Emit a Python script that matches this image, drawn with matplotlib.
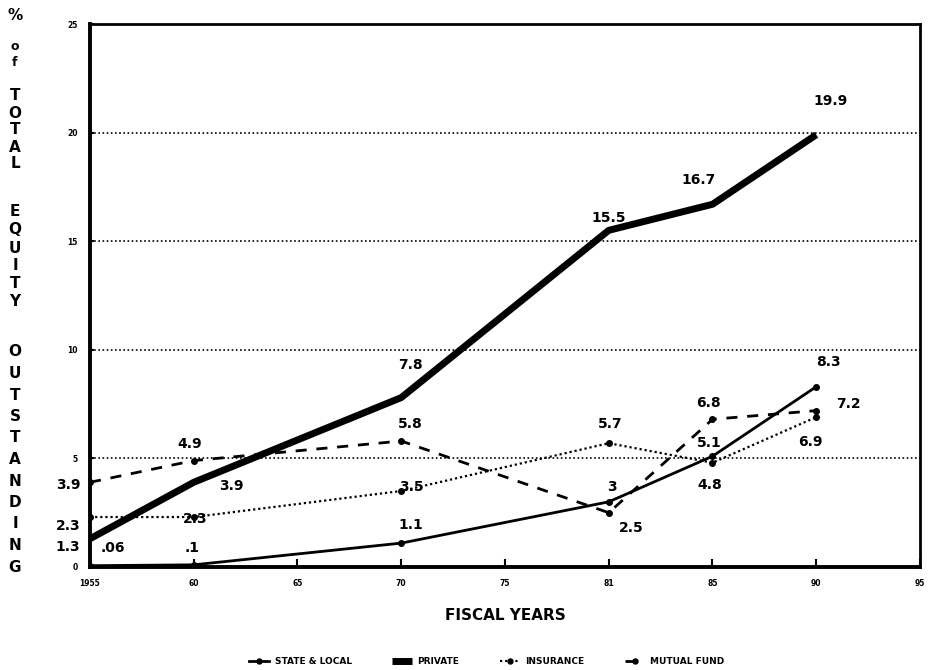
import matplotlib
matplotlib.use('Agg')
import matplotlib.pyplot as plt

# --- data ---
years = [1955, 1960, 1970, 1981, 1985, 1990]
tick_years = [1955, 1960, 1965, 1970, 1975, 1981, 1985, 1990, 1995]
tick_labels = ['1955', '60', '65', '70', '75', '81', '85', '90', '95']
y_ticks = [0, 5, 10, 15, 20, 25]

state_local = [0.06, 0.1, 1.1, 3.0, 5.1, 8.3]
private = [1.3, 3.9, 7.8, 15.5, 16.7, 19.9]
insurance = [2.3, 2.3, 3.5, 5.7, 4.8, 6.9]
mutual_fund = [3.9, 4.9, 5.8, 2.5, 6.8, 7.2]

state_local_text = ['.06', '.1', '1.1', '3', '5.1', '8.3']
private_text = ['1.3', '3.9', '7.8', '15.5', '16.7', '19.9']
insurance_text = ['2.3', '2.3', '3.5', '5.7', '4.8', '6.9']
mutual_fund_text = ['3.9', '4.9', '5.8', '2.5', '6.8', '7.2']

# label offsets in pixels from each point (dx, dy up)
state_local_off = [(23, 18), (-2, 17), (10, 18), (3, 15), (-3, 13), (12, 25)]
private_off = [(-22, -8), (38, -4), (9, 33), (0, 12), (-14, 24), (14, 34)]
insurance_off = [(-22, -9), (1, -2), (10, 4), (1, 19), (-3, -22), (-6, -25)]
mutual_fund_off = [(-22, -3), (-4, 17), (9, 17), (23, -15), (-4, 16), (32, 7)]

x = [tick_years.index(y) for y in years]

fig = plt.figure(figsize=(9.29, 6.70), dpi=100)
ax = fig.add_axes([90 / 929, 1 - 567 / 670, 830 / 929, 543 / 670])

l_sl, = ax.plot(x, state_local, color='black', lw=2, marker='o', ms=4,
                label='STATE & LOCAL', zorder=5)
l_pr, = ax.plot(x, private, color='black', lw=5, solid_capstyle='butt',
                label='PRIVATE', zorder=6)
l_in, = ax.plot(x, insurance, color='black', lw=1.6, ls=(0, (1, 1.3)),
                marker='o', ms=4, label='INSURANCE', zorder=4)
l_mf, = ax.plot(x, mutual_fund, color='black', lw=2, ls=(0, (4, 3.5)),
                marker='o', ms=4, label='MUTUAL FUND', zorder=4)

for vals, texts, offs in [(state_local, state_local_text, state_local_off),
                          (private, private_text, private_off),
                          (insurance, insurance_text, insurance_off),
                          (mutual_fund, mutual_fund_text, mutual_fund_off)]:
    for xi, v, t, o in zip(x, vals, texts, offs):
        ax.annotate(t, (xi, v), xytext=o, textcoords='offset pixels',
                    ha='center', va='center', fontsize=10, fontweight='bold',
                    annotation_clip=False, zorder=8)

ax.set_xlim(0, len(tick_years) - 1)
ax.set_ylim(0, 25)
ax.set_xticks(range(len(tick_years)))
ax.set_xticklabels(tick_labels, fontsize=5.5, fontweight='bold')
ax.set_yticks(y_ticks)
ax.set_yticklabels([str(t) for t in y_ticks], fontsize=5.5, fontweight='bold')
ax.tick_params(axis='x', direction='in', length=6, width=1.5, pad=9)
ax.tick_params(axis='y', direction='in', length=3, width=1.5, pad=9)

for yv in y_ticks[1:-1]:
    ax.axhline(yv, color='black', lw=1.2, ls=(0, (1, 1.5)), zorder=1)

for side in ['left', 'bottom']:
    ax.spines[side].set_linewidth(2.8)
for side in ['top', 'right']:
    ax.spines[side].set_linewidth(2)

ax.set_xlabel('FISCAL YEARS', fontsize=11, fontweight='bold', labelpad=14)

# stacked vertical y label
words = [('%', 15, 0), ('of', 47, 16), ('TOTAL', 96, 17),
         ('EQUITY', 212, 18), ('OUTSTANDING', 352, 21.5)]
for word, y0, step in words:
    for i, ch in enumerate(word):
        fig.text(15 / 929, 1 - (y0 + i * step) / 670, ch, ha='center', va='center',
                 fontsize=11 if ch not in 'of' else 9, fontweight='bold')

fig.legend(handles=[l_sl, l_pr, l_in, l_mf], loc='center',
           bbox_to_anchor=(487 / 929, 1 - 662 / 670), ncol=4, frameon=False,
           prop={'size': 6.5, 'weight': 'bold'}, handlelength=2.2,
           columnspacing=4.5, handletextpad=0.6, markerscale=0.9)

fig.savefig('out.png', dpi=100)
